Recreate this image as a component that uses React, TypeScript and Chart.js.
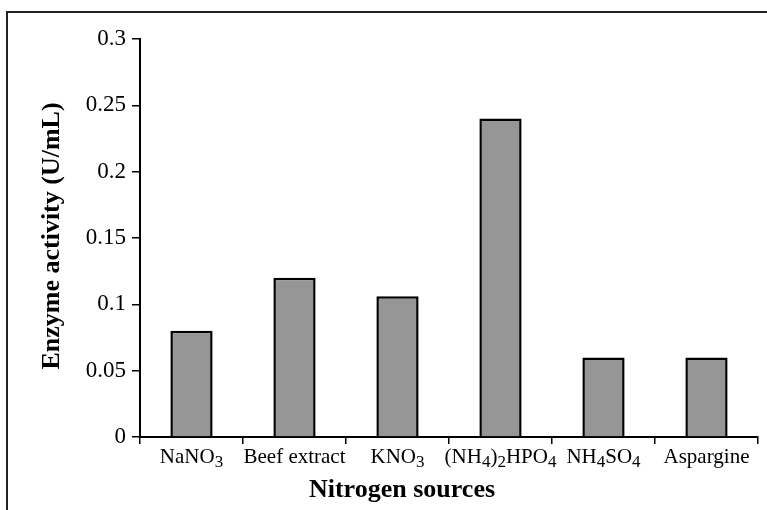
import React, { useEffect, useRef } from 'react';
import { Chart, registerables } from 'chart.js';

Chart.register(...registerables);

// Nitrogen source tested and the enzyme activity it gave (U/mL)
const categories = ['NaNO₃', 'Beef extract', 'KNO₃', '(NH₄)₂HPO₄', 'NH₄SO₄', 'Aspargine'];
const activity = [0.08, 0.12, 0.106, 0.24, 0.06, 0.06];
const yTickLabels = ['0', '0.05', '0.1', '0.15', '0.2', '0.25', '0.3'];
const xTitle = 'Nitrogen sources';
const yTitle = 'Enzyme activity (U/mL)';

const W = 767;
const H = 510;
const SERIF = '"Liberation Serif", "Times New Roman", Times, serif';

const SUBSCRIPTS: Record<string, string> = {
  '₀': '0', '₁': '1', '₂': '2', '₃': '3', '₄': '4',
  '₅': '5', '₆': '6', '₇': '7', '₈': '8', '₉': '9',
};

// Draws a label centred on cx, rendering subscript digits smaller and lowered.
function drawChemLabel(ctx: CanvasRenderingContext2D, text: string, cx: number, baseline: number, size: number) {
  const runs: { t: string; sub: boolean }[] = [];
  for (const ch of text) {
    const sub = ch in SUBSCRIPTS;
    const c = sub ? SUBSCRIPTS[ch] : ch;
    const last = runs[runs.length - 1];
    if (last && last.sub === sub) last.t += c;
    else runs.push({ t: c, sub });
  }
  const subSize = Math.round(size * 0.8);
  const fontFor = (sub: boolean) => `${sub ? subSize : size}px ${SERIF}`;
  let total = 0;
  const widths = runs.map((r) => {
    ctx.font = fontFor(r.sub);
    const w = ctx.measureText(r.t).width;
    total += w;
    return w;
  });
  let x = cx - total / 2;
  ctx.textAlign = 'left';
  ctx.textBaseline = 'alphabetic';
  runs.forEach((r, i) => {
    ctx.font = fontFor(r.sub);
    ctx.fillText(r.t, x, baseline + (r.sub ? 4 : 0));
    x += widths[i];
  });
}

const decorations = {
  id: 'decorations',
  afterDraw(chart: any) {
    const ctx: CanvasRenderingContext2D = chart.ctx;
    const xScale = chart.scales.x;
    ctx.save();
    ctx.fillStyle = '#000';

    // outer frame
    ctx.strokeStyle = '#222';
    ctx.lineWidth = 2;
    ctx.strokeRect(7, 12, W + 40, H + 40);

    // category labels
    categories.forEach((label, i) => {
      drawChemLabel(ctx, label, xScale.getPixelForValue(i), 463, 21);
    });

    // axis titles
    ctx.font = `bold 26px ${SERIF}`;
    ctx.textAlign = 'center';
    ctx.textBaseline = 'alphabetic';
    ctx.fillText(xTitle, 402, 497);

    ctx.translate(59, 236);
    ctx.rotate(-Math.PI / 2);
    ctx.fillText(yTitle, 0, 0);
    ctx.restore();
  },
};

export default function App() {
  const canvasRef = useRef<HTMLCanvasElement | null>(null);

  useEffect(() => {
    const canvas = canvasRef.current;
    if (!canvas) return;
    const chart = new Chart(canvas, {
      type: 'bar',
      data: {
        labels: categories,
        datasets: [
          {
            data: activity,
            backgroundColor: '#969696',
            borderColor: '#000',
            borderWidth: 2.5,
            borderSkipped: 'start',
            barPercentage: 0.41,
            categoryPercentage: 1,
          },
        ],
      },
      options: {
        responsive: false,
        animation: false,
        devicePixelRatio: 1,
        layout: { padding: { top: 39, right: 9, left: 0, bottom: 0 } },
        plugins: {
          legend: { display: false },
          tooltip: { enabled: false },
          title: { display: false },
        },
        scales: {
          x: {
            offset: true,
            grid: {
              offset: true,
              drawOnChartArea: false,
              drawTicks: true,
              tickLength: 7,
              color: '#000',
              lineWidth: 1.5,
            },
            border: { color: '#000', width: 2 },
            ticks: { display: false },
            afterFit: (s: any) => {
              s.height = 73;
            },
          },
          y: {
            min: 0,
            max: 0.3,
            ticks: {
              stepSize: 0.05,
              color: '#000',
              padding: 6,
              font: { family: SERIF, size: 23 },
              callback: (_v: any, i: number) => yTickLabels[i],
            },
            grid: {
              drawOnChartArea: false,
              tickLength: 8,
              color: '#000',
              lineWidth: 1.5,
            },
            border: { color: '#000', width: 2 },
            afterFit: (s: any) => {
              s.width = 140;
            },
          },
        },
      },
      plugins: [decorations],
    });
    return () => chart.destroy();
  }, []);

  return (
    <div style={{ position: 'absolute', left: 0, top: 0, width: W, height: H, overflow: 'hidden', background: '#fff' }}>
      <canvas ref={canvasRef} width={W} height={H} style={{ display: 'block' }} />
    </div>
  );
}
